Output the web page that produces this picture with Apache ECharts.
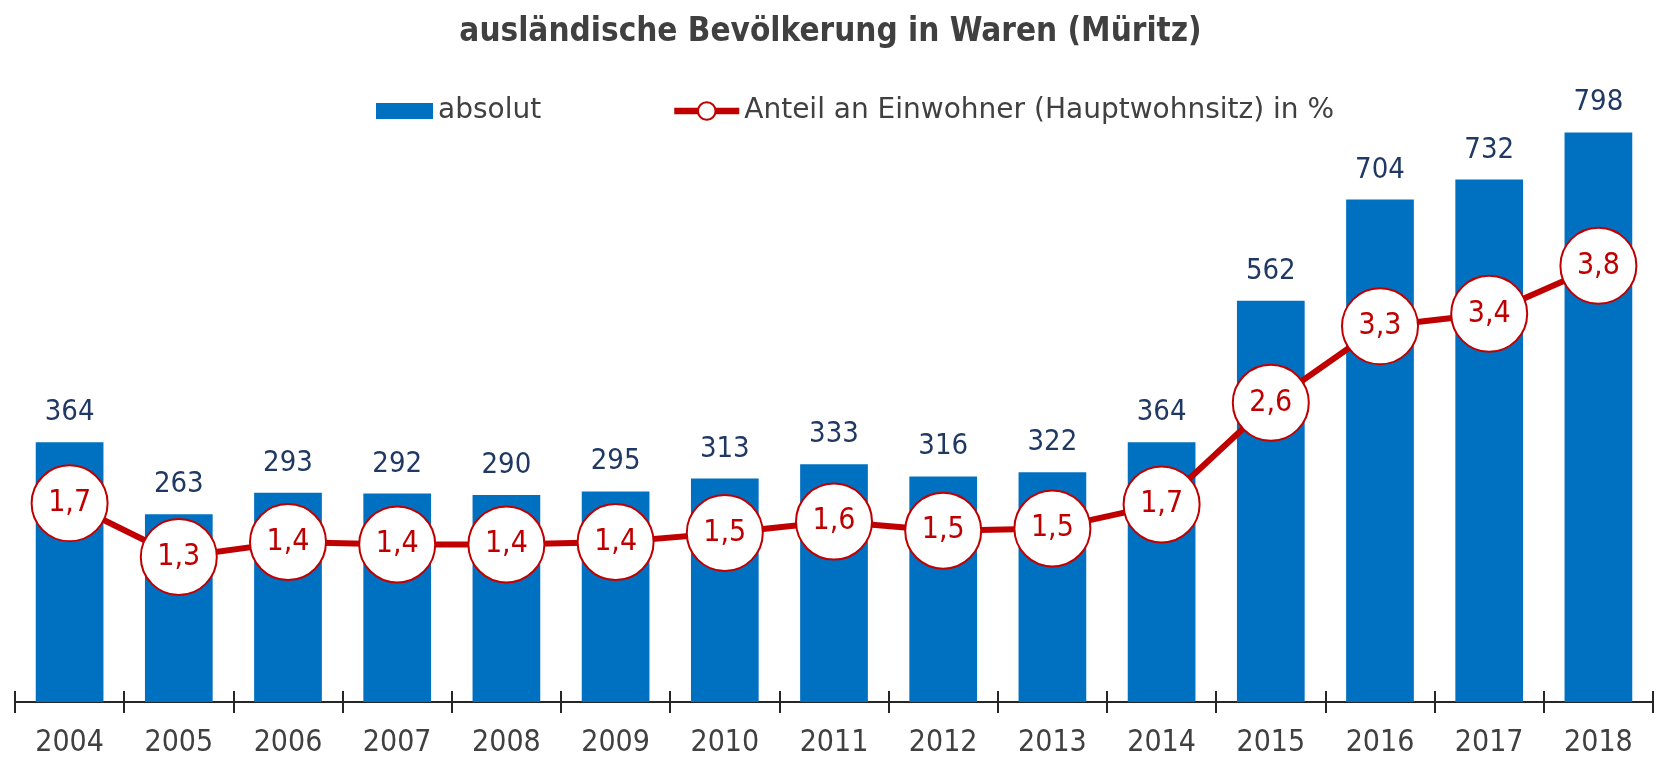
<!DOCTYPE html>
<html>
<head>
<meta charset="utf-8">
<script src="https://cdn.jsdelivr.net/npm/echarts@6/dist/echarts.min.js"></script>
<style>
html,body{margin:0;padding:0;background:#fff;}
#chart{width:1661px;height:760px;}
</style>
</head>
<body>
<div id="chart"></div>
<script>
const titleText = 'ausländische Bevölkerung in Waren (Müritz)';
const years = ['2004','2005','2006','2007','2008','2009','2010','2011','2012','2013','2014','2015','2016','2017','2018'];
const absolut = [364,263,293,292,290,295,313,333,316,322,364,562,704,732,798];
const anteil = [1.74,1.27,1.40,1.38,1.38,1.40,1.48,1.58,1.50,1.52,1.73,2.62,3.29,3.40,3.82];
const barName = 'absolut';
const lineName = 'Anteil an Einwohner (Hauptwohnsitz) in %';

function hasFont(name){
  const c = document.createElement('canvas').getContext('2d');
  const s = 'abcdefghijklmnop0123456789';
  c.font = '30px monospace'; const w1 = c.measureText(s).width;
  c.font = '30px "' + name + '", monospace'; const w2 = c.measureText(s).width;
  return Math.abs(w1 - w2) > 0.5;
}
const FONT = hasFont('DejaVu Sans Condensed') ? '"DejaVu Sans Condensed", sans-serif' : '"Liberation Sans", sans-serif';
const FONT_WIDE = '"DejaVu Sans", sans-serif';

const chart = echarts.init(document.getElementById('chart'));
chart.setOption({
  animation: false,
  backgroundColor: '#ffffff',
  title: {
    text: titleText, left: 'center', top: 16, padding: 0,
    textStyle: {fontFamily: FONT, fontWeight: 'bold', fontSize: 33, color: '#404040'}
  },
  legend: [
    {data: [{name: barName, icon: 'rect'}], left: 376, top: 97, padding: 0, itemWidth: 57, itemHeight: 16, itemGap: 0,
     textStyle: {fontFamily: FONT_WIDE, fontSize: 28, color: '#404040'}},
    {data: [lineName], left: 671, top: 97, padding: 0, itemWidth: 65, itemHeight: 22, itemGap: 0,
     lineStyle: {width: 6.5, color: '#C00000'},
     itemStyle: {color: '#ffffff', borderColor: '#C00000', borderWidth: 2},
     textStyle: {fontFamily: FONT_WIDE, fontSize: 28, color: '#404040'}}
  ],
  grid: {left: 15, right: 8, top: 131, bottom: 58},
  xAxis: [
    {type: 'category', data: years, boundaryGap: true,
     axisLine: {show: true, lineStyle: {color: '#262626', width: 2}},
     axisTick: {show: true, length: 11, lineStyle: {color: '#262626', width: 2}},
     axisLabel: {fontFamily: FONT, fontSize: 30, color: '#404040', margin: 26}},
    {type: 'category', data: years, boundaryGap: true, position: 'bottom',
     axisLine: {show: false},
     axisTick: {show: true, inside: true, length: 11, lineStyle: {color: '#262626', width: 2}},
     axisLabel: {show: false}}
  ],
  yAxis: [
    {type: 'value', min: 0, max: 800, show: false, splitLine: {show: false}},
    {type: 'value', min: 0, max: 5, show: false, splitLine: {show: false}}
  ],
  series: [
    {name: barName, type: 'bar', data: absolut, barWidth: '62%', xAxisIndex: 0, yAxisIndex: 0,
     itemStyle: {color: '#0070C0'},
     label: {show: true, position: 'top', distance: 15, fontFamily: FONT, fontSize: 29, color: '#1F3864'}},
    {name: lineName, type: 'line', data: anteil, xAxisIndex: 0, yAxisIndex: 1, z: 5,
     symbol: 'circle', symbolSize: 76,
     lineStyle: {color: '#C00000', width: 6},
     itemStyle: {color: '#ffffff', borderColor: '#C00000', borderWidth: 2},
     label: {show: true, position: 'inside', fontFamily: FONT, fontSize: 30, color: '#C00000',
       formatter: p => p.value.toFixed(1).replace('.', ',')}}
  ]
});
</script>
</body>
</html>
